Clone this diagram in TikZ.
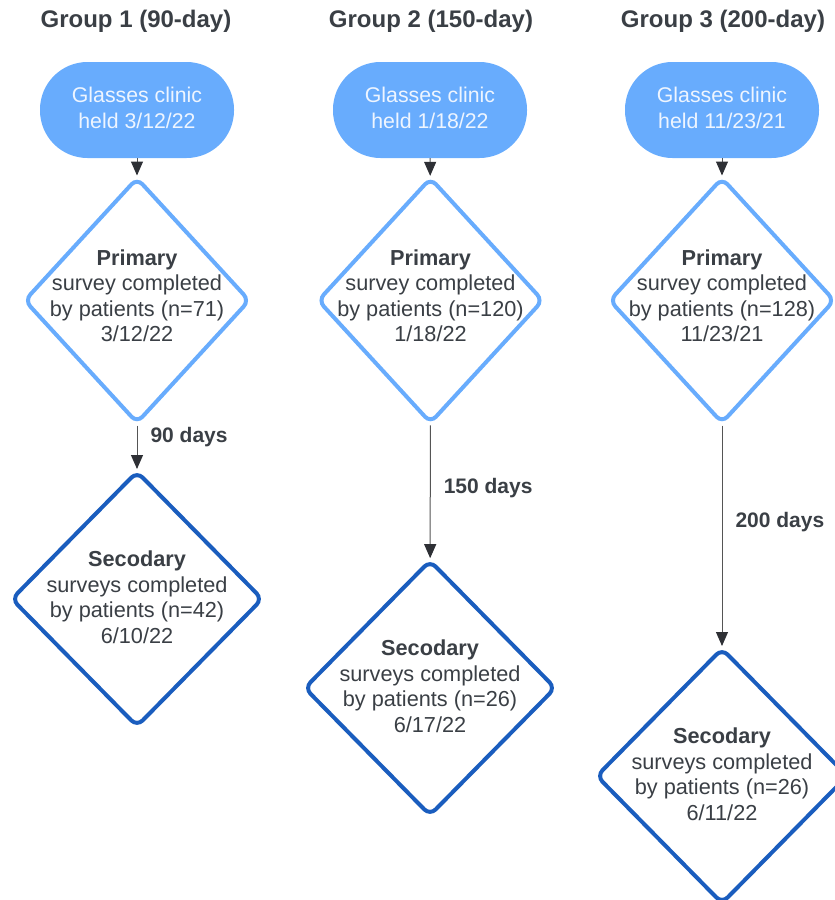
\documentclass[tikz,border=0pt]{standalone}
\usepackage{fontspec}
\setmainfont{Liberation Sans}
\usetikzlibrary{shapes.geometric,arrows.meta}
\definecolor{lightb}{HTML}{68ACFD}
\definecolor{darkb}{HTML}{1A5DBE}
\definecolor{txtc}{HTML}{3A3F45}
\definecolor{cliptxt}{HTML}{EEF5FF}
\definecolor{linec}{HTML}{555555}
\definecolor{tipc}{HTML}{2E3035}
\tikzset{
  grouptitle/.style={font=\fontsize{24}{28}\selectfont\bfseries, text=txtc, inner sep=0pt},
  clinic/.style={rectangle, rounded corners=47.5pt, fill=lightb, minimum width=194pt, minimum height=96pt, inner sep=0pt},
  ctext/.style={font=\fontsize{21.3}{26}\selectfont, text=cliptxt, align=center, inner sep=0pt},
  prim/.style={diamond, draw=lightb, line width=4pt, rounded corners=8pt, fill=white,
    minimum width=226pt, minimum height=246pt, inner sep=0pt},
  sec/.style={diamond, draw=darkb, line width=4pt, rounded corners=8pt, fill=white,
    minimum width=252pt, minimum height=256pt, inner sep=0pt},
  dtext/.style={font=\fontsize{21.7}{25.5}\selectfont, text=txtc, align=center, inner sep=0pt},
  arr/.style={draw=linec, line width=1pt, -{Triangle[width=12pt,length=14pt,color=tipc]}},
  lab/.style={font=\fontsize{21}{25}\selectfont\bfseries, text=txtc, anchor=west, inner sep=0pt, xshift=13pt}
}
\begin{document}
\begin{tikzpicture}[x=1pt,y=-1pt]
\useasboundingbox (0,0) rectangle (835,900);

% titles
\node[grouptitle] (t1) at (136,21) {Group 1 (90-day)};
\node[grouptitle] (t2) at (431,21) {Group 2 (150-day)};
\node[grouptitle] (t3) at (723,21) {Group 3 (200-day)};

% clinics
\node[clinic, label={[ctext, yshift=2pt]center:{Glasses clinic\\held 3/12/22}}] (c1) at (137,110) {};
\node[clinic, label={[ctext, yshift=2pt]center:{Glasses clinic\\held 1/18/22}}] (c2) at (430,110) {};
\node[clinic, label={[ctext, yshift=2pt]center:{Glasses clinic\\held 11/23/21}}] (c3) at (722,110) {};

% primary diamonds
\node[prim, label={[dtext, yshift=5pt]center:{\textbf{Primary}\\survey completed\\by patients (n=71)\\3/12/22}}] (p1) at (137,300.5) {};
\node[prim, label={[dtext, yshift=5pt]center:{\textbf{Primary}\\survey completed\\by patients (n=120)\\1/18/22}}] (p2) at (430.5,300.5) {};
\node[prim, label={[dtext, yshift=5pt]center:{\textbf{Primary}\\survey completed\\by patients (n=128)\\11/23/21}}] (p3) at (722,300.5) {};

% secondary diamonds
\node[sec, label={[dtext, yshift=2pt]center:{\textbf{Secodary}\\surveys completed\\by patients (n=42)\\6/10/22}}] (s1) at (137,599) {};
\node[sec, label={[dtext, yshift=2pt]center:{\textbf{Secodary}\\surveys completed\\by patients (n=26)\\6/17/22}}] (s2) at (430,688) {};
\node[sec, label={[dtext, yshift=2pt]center:{\textbf{Secodary}\\surveys completed\\by patients (n=26)\\6/11/22}}] (s3) at (722,776) {};

% connectors
\draw[arr] (c1) -- (p1);
\draw[arr] (c2) -- (p2);
\draw[arr] (c3) -- (p3);
\draw[arr] (p1) -- node[lab, pos=0.27] {90 days} (s1);
\draw[arr] (p2) -- node[lab, pos=0.47] {150 days} (s2);
\draw[arr] (p3) -- node[lab, pos=0.44] {200 days} (s3);
\end{tikzpicture}
\end{document}
